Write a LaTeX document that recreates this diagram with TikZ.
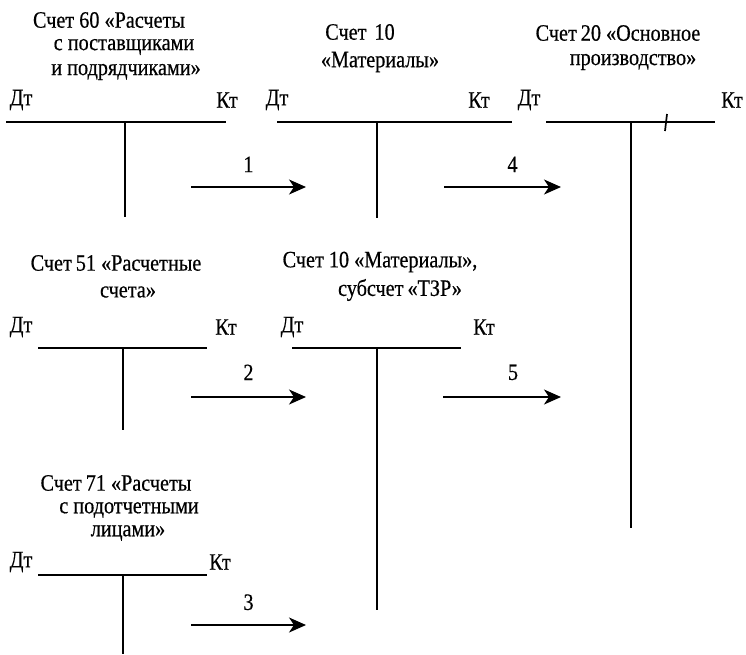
\documentclass[tikz,border=0pt]{standalone}
\usepackage{fontspec}
\setmainfont{Liberation Serif}[FakeStretch=0.86,FakeBold=0.5]
\usetikzlibrary{arrows.meta}
\begin{document}
\begin{tikzpicture}[x=1pt,y=-1pt,
  lbl/.style={inner sep=0pt,font=\fontsize{23.5}{26}\selectfont},
  ttl/.style={inner sep=0pt,font=\fontsize{23.5}{26}\selectfont},
  tline/.style={line width=1.7pt},
  flow/.style={line width=1.7pt,-{Stealth[length=17pt,width=15pt,inset=5pt]}}]
\useasboundingbox (0,0) rectangle (746,654);
% Account 60
\node[ttl] (t60a) at (109,20) {Счет 60 «Расчеты};
\node[ttl] (t60b) at (124,47) {с поставщиками};
\node[ttl] (t60c) at (126,72) {и подрядчиками»};
\node[lbl] (d60) at (21,100) {Дт};
\node[lbl] (k60) at (227,100) {Кт};
\coordinate (a60l) at (6,122); \coordinate (a60r) at (226,122);
\coordinate (a60t) at (125,122); \coordinate (a60b) at (125,217);
\draw[tline] (a60l) -- (a60r);
\draw[tline] (a60t) -- (a60b);
% Account 10
\node[ttl] (t10a) at (360,32) {Счет\hspace{8pt}10};
\node[ttl] (t10b) at (380,62) {«Материалы»};
\node[lbl] (d10) at (277,100) {Дт};
\node[lbl] (k10) at (479,100) {Кт};
\coordinate (a10l) at (277,122); \coordinate (a10r) at (512,122);
\coordinate (a10t) at (377,122); \coordinate (a10b) at (377,218);
\draw[tline] (a10l) -- (a10r);
\draw[tline] (a10t) -- (a10b);
% Account 20
\node[ttl] (t20a) at (618,33) {Счет\hspace{4pt}20 «Основное};
\node[ttl] (t20b) at (633,62) {производство»};
\node[lbl] (d20) at (529,100) {Дт};
\node[lbl] (k20) at (732,100) {Кт};
\coordinate (a20l) at (546,122); \coordinate (a20r) at (715,122);
\coordinate (a20t) at (631,122); \coordinate (a20b) at (631,528);
\draw[tline] (a20l) -- (a20r);
\draw[tline] (a20t) -- (a20b);
\coordinate (tk1) at (667,114); \coordinate (tk2) at (665,131);
\draw[line width=1.7pt] (tk1) -- (tk2);
% Account 51
\node[ttl] (t51a) at (116,263) {Счет\hspace{4pt}51 «Расчетные};
\node[ttl] (t51b) at (128,292) {счета»};
\node[lbl] (d51) at (21,327) {Дт};
\node[lbl] (k51) at (226,327) {Кт};
\coordinate (a51l) at (38,348); \coordinate (a51r) at (207,348);
\coordinate (a51t) at (123,348); \coordinate (a51b) at (123,430);
\draw[tline] (a51l) -- (a51r);
\draw[tline] (a51t) -- (a51b);
% Account 10 TZR
\node[ttl] (tzra) at (380,262) {Счет 10 «Материалы»,};
\node[ttl] (tzrb) at (400,290) {субсчет\hspace{4pt}«ТЗР»};
\node[lbl] (dzr) at (292,327) {Дт};
\node[lbl] (kzr) at (484,327) {Кт};
\coordinate (azrl) at (292,348); \coordinate (azrr) at (461,348);
\coordinate (azrt) at (377,348); \coordinate (azrb) at (377,610);
\draw[tline] (azrl) -- (azrr);
\draw[tline] (azrt) -- (azrb);
% Account 71
\node[ttl] (t71a) at (116,483) {Счет\hspace{4pt}71 «Расчеты};
\node[ttl] (t71b) at (129,510) {с подотчетными};
\node[ttl] (t71c) at (128,533) {лицами»};
\node[lbl] (d71) at (21,562) {Дт};
\node[lbl] (k71) at (220,562) {Кт};
\coordinate (a71l) at (38,575); \coordinate (a71r) at (207,575);
\coordinate (a71t) at (123,575); \coordinate (a71b) at (123,654);
\draw[tline] (a71l) -- (a71r);
\draw[tline] (a71t) -- (a71b);
% Flows
\coordinate (f1s) at (191,187); \coordinate (f1e) at (306,187);
\draw[flow] (f1s) -- node[lbl,above=14pt] (n1) {1} (f1e);
\coordinate (f4s) at (444,187); \coordinate (f4e) at (561,187);
\draw[flow] (f4s) -- node[lbl,above=14pt,xshift=10pt] (n4) {4} (f4e);
\coordinate (f2s) at (191,397); \coordinate (f2e) at (306,397);
\draw[flow] (f2s) -- node[lbl,above=16pt] (n2) {2} (f2e);
\coordinate (f5s) at (443,397); \coordinate (f5e) at (561,397);
\draw[flow] (f5s) -- node[lbl,above=16pt,xshift=11pt] (n5) {5} (f5e);
\coordinate (f3s) at (191,625); \coordinate (f3e) at (306,625);
\draw[flow] (f3s) -- node[lbl,above=14pt] (n3) {3} (f3e);
\end{tikzpicture}
\end{document}
